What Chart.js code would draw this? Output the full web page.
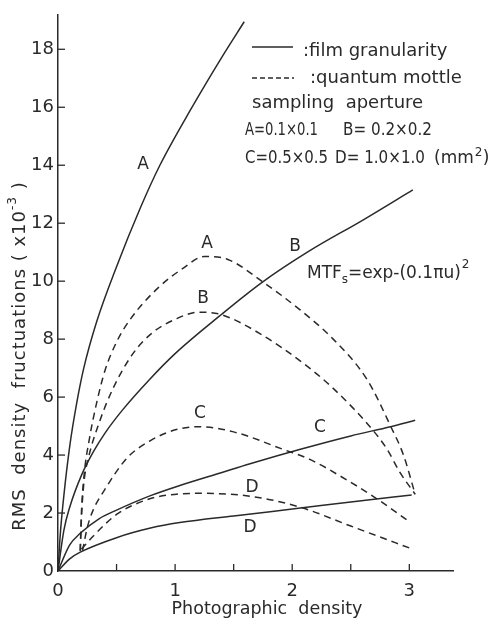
<!DOCTYPE html>
<html>
<head>
<meta charset="utf-8">
<script src="https://cdn.jsdelivr.net/npm/chart.js@4.4.0/dist/chart.umd.min.js"></script>
<style>
  body { margin: 0; background: #fff; }
  #wrap { width: 498px; height: 619px; position: relative; }
</style>
</head>
<body>
<div id="wrap"><canvas id="rmsChart"></canvas></div>
<script>
// film granularity (solid lines), photographic density -> RMS (x10^-3)
var filmAx = [0, 0.02, 0.05, 0.1, 0.16, 0.22, 0.33, 0.5, 0.7, 0.87, 1.13, 1.41, 1.59];
var filmAy = [0, 1.3, 2.6, 4.3, 5.8, 7.0, 8.6, 10.5, 12.5, 14.0, 15.9, 17.8, 18.95];
var filmBx = [0, 0.05, 0.1, 0.2, 0.3, 0.4, 0.55, 0.78, 1.0, 1.38, 1.74, 2.15, 2.6, 3.03];
var filmBy = [0, 1.4, 2.2, 3.3, 4.1, 4.75, 5.55, 6.6, 7.5, 8.8, 9.95, 11.05, 12.1, 13.15];
var filmCx = [0, 0.1, 0.19, 0.35, 0.5, 0.79, 1.04, 1.4, 1.64, 2.07, 2.5, 2.84, 3.05];
var filmCy = [0, 0.9, 1.3, 1.8, 2.1, 2.6, 2.95, 3.4, 3.7, 4.2, 4.66, 4.98, 5.2];
var filmDx = [0, 0.1, 0.19, 0.5, 0.79, 1.04, 1.5, 2.07, 2.5, 3.02];
var filmDy = [0, 0.42, 0.65, 1.15, 1.48, 1.67, 1.9, 2.17, 2.38, 2.62];

// quantum mottle (dashed lines)
var mottleAx = [0.19, 0.2, 0.22, 0.27, 0.33, 0.4, 0.5, 0.62, 0.85, 1.07, 1.25, 1.45, 1.74, 2.07, 2.35, 2.64, 2.84, 2.95, 3.05];
var mottleAy = [0.7, 2.0, 3.2, 4.6, 5.8, 6.9, 7.9, 8.7, 9.75, 10.45, 10.85, 10.75, 10.0, 9.0, 8.0, 6.6, 5.0, 4.0, 2.65];
var mottleBx = [0.19, 0.2, 0.22, 0.26, 0.35, 0.47, 0.64, 0.8, 1.01, 1.2, 1.39, 1.72, 2.1, 2.35, 2.68, 2.81, 2.92, 3.05];
var mottleBy = [0.7, 1.8, 3.0, 3.9, 5.1, 6.3, 7.5, 8.2, 8.7, 8.93, 8.85, 8.2, 7.15, 6.3, 4.9, 4.2, 3.4, 2.65];
var mottleCx = [0.21, 0.25, 0.3, 0.39, 0.59, 0.79, 1.01, 1.21, 1.5, 1.92, 2.15, 2.4, 2.72, 3.0];
var mottleCy = [0.7, 1.5, 2.1, 2.75, 3.9, 4.5, 4.88, 4.98, 4.8, 4.2, 3.85, 3.3, 2.5, 1.7];
var mottleDx = [0.2, 0.3, 0.5, 0.79, 1.01, 1.2, 1.64, 2.07, 2.5, 3.03];
var mottleDy = [0.75, 1.2, 1.95, 2.5, 2.65, 2.68, 2.58, 2.2, 1.55, 0.75];

// axis ticks
var xTickMarks = [0.5, 1, 1.5, 2, 2.5, 3];
var yTickMarks = [2, 4, 6, 8, 10, 12, 14, 16, 18];

// curve letters, placed in data units
var curveLabels = ['A', 'A', 'B', 'B', 'C', 'C', 'D', 'D'];
var curveLabelX = [0.726, 1.272, 1.238, 2.024, 1.213, 2.237, 1.657, 1.64];
var curveLabelY = [14.03, 11.28, 9.39, 11.21, 5.44, 4.95, 2.89, 1.51];

var ink = '#2a2a2a';
var fontFamily = "'DejaVu Sans', sans-serif";

function toPoints(xs, ys) {
    var pts = [];
    for (var i = 0; i < xs.length; i++) {
        pts.push({ x: xs[i], y: ys[i] });
    }
    return pts;
}

function curve(label, xs, ys, dashed) {
    return {
        label: label,
        data: toPoints(xs, ys),
        showLine: true,
        borderColor: ink,
        borderWidth: 1.5,
        borderDash: dashed ? [7, 5] : [],
        pointRadius: 0,
        fill: false,
        cubicInterpolationMode: 'monotone'
    };
}

// Draw inward tick marks, legend text and labels
var annotations = {
    id: 'annotations',
    beforeDraw: function (chart) {
        var ctx = chart.ctx;
        ctx.save();
        ctx.fillStyle = '#fff';
        ctx.fillRect(0, 0, chart.width, chart.height);
        ctx.restore();
    },
    afterDraw: function (chart) {
        var ctx = chart.ctx;
        var xs = chart.scales.x, ys = chart.scales.y;
        var area = chart.chartArea;
        ctx.save();
        ctx.strokeStyle = ink;
        ctx.fillStyle = ink;
        ctx.lineWidth = 1.3;

        // inward tick marks
        yTickMarks.forEach(function (v) {
            var py = ys.getPixelForValue(v);
            ctx.beginPath();
            ctx.moveTo(area.left, py);
            ctx.lineTo(area.left + 7, py);
            ctx.stroke();
        });
        xTickMarks.forEach(function (v) {
            var px = xs.getPixelForValue(v);
            ctx.beginPath();
            ctx.moveTo(px, area.bottom);
            ctx.lineTo(px, area.bottom - 7);
            ctx.stroke();
        });

        // curve letters
        ctx.font = '17px ' + fontFamily;
        ctx.textAlign = 'center';
        ctx.textBaseline = 'middle';
        for (var i = 0; i < curveLabels.length; i++) {
            ctx.fillText(curveLabels[i], xs.getPixelForValue(curveLabelX[i]), ys.getPixelForValue(curveLabelY[i]));
        }

        // legend
        ctx.textAlign = 'left';
        ctx.textBaseline = 'alphabetic';
        ctx.lineWidth = 1.5;
        ctx.beginPath();
        ctx.moveTo(252, 47);
        ctx.lineTo(293, 47);
        ctx.stroke();
        ctx.setLineDash([5, 3]);
        ctx.beginPath();
        ctx.moveTo(252, 78);
        ctx.lineTo(294, 78);
        ctx.stroke();
        ctx.setLineDash([]);

        ctx.font = '18px ' + fontFamily;
        ctx.fillText(':film granularity', 303, 56, 154);
        ctx.fillText(':quantum mottle', 310, 83, 155);
        ctx.fillText('sampling  aperture', 252, 108, 176);
        ctx.font = '17px ' + fontFamily;
        ctx.fillText('A=0.1\u00d70.1', 245, 135, 73);
        ctx.fillText('B= 0.2\u00d70.2', 343, 135, 89);
        ctx.fillText('C=0.5\u00d70.5', 245, 163, 83);
        ctx.fillText('D= 1.0\u00d71.0', 335, 163, 90);
        ctx.fillText('(mm', 434, 163);
        var w = ctx.measureText('(mm').width;
        ctx.font = '12px ' + fontFamily;
        ctx.fillText('2', 434 + w + 1, 156);
        ctx.font = '17px ' + fontFamily;
        ctx.fillText(')', 434 + w + 9, 163);

        // MTF formula
        ctx.font = '17px ' + fontFamily;
        ctx.fillText('MTF', 307, 278);
        var mx = 307 + ctx.measureText('MTF').width;
        ctx.font = '12px ' + fontFamily;
        ctx.fillText('s', mx, 283);
        mx += ctx.measureText('s').width;
        ctx.font = '17px ' + fontFamily;
        var rest = '=exp-(0.1\u03c0u)';
        var restW = Math.min(ctx.measureText(rest).width, 463 - mx);
        ctx.fillText(rest, mx, 278, 463 - mx);
        ctx.font = '12px ' + fontFamily;
        ctx.fillText('2', mx + restW + 1, 268);

        // x axis title
        ctx.font = '17.5px ' + fontFamily;
        ctx.textAlign = 'center';
        ctx.fillText('Photographic  density', 267, 614);

        // y axis title, rotated
        ctx.translate(20, 356);
        ctx.rotate(-Math.PI / 2);
        ctx.textAlign = 'left';
        ctx.textBaseline = 'middle';
        ctx.letterSpacing = '1px';
        ctx.font = '18px ' + fontFamily;
        var t1 = 'RMS  density  fructuations ( x10';
        var t2 = '-3';
        var t3 = ' )';
        var w1 = ctx.measureText(t1).width;
        var w3 = ctx.measureText(t3).width;
        ctx.font = '12px ' + fontFamily;
        var w2 = ctx.measureText(t2).width;
        var start = -(w1 + w2 + w3) / 2;
        ctx.font = '18px ' + fontFamily;
        ctx.fillText(t1, start, 0);
        ctx.font = '12px ' + fontFamily;
        ctx.fillText(t2, start + w1, -7);
        ctx.font = '18px ' + fontFamily;
        ctx.fillText(t3, start + w1 + w2, 0);
        ctx.restore();
    }
};

var ctx = document.getElementById('rmsChart').getContext('2d');
var rmsChart = new Chart(ctx, {
    type: 'scatter',
    data: {
        datasets: [
            curve('film A', filmAx, filmAy, false),
            curve('film B', filmBx, filmBy, false),
            curve('film C', filmCx, filmCy, false),
            curve('film D', filmDx, filmDy, false),
            curve('mottle A', mottleAx, mottleAy, true),
            curve('mottle B', mottleBx, mottleBy, true),
            curve('mottle C', mottleCx, mottleCy, true),
            curve('mottle D', mottleDx, mottleDy, true)
        ]
    },
    options: {
        responsive: true,
        maintainAspectRatio: false,
        animation: false,
        layout: { padding: { top: 13, right: 45, left: 0, bottom: 0 } },
        plugins: {
            legend: { display: false },
            tooltip: { enabled: false }
        },
        scales: {
            x: {
                type: 'linear',
                min: 0,
                max: 3.373,
                grid: { display: false, drawTicks: false },
                border: { display: true, color: ink, width: 1.5 },
                ticks: {
                    stepSize: 0.5,
                    includeBounds: false,
                    autoSkip: false,
                    maxRotation: 0,
                    padding: 10,
                    color: ink,
                    font: { family: 'DejaVu Sans', size: 18 },
                    callback: function (v) {
                        return Number.isInteger(v) ? v : '';
                    }
                },
                afterFit: function (scale) { scale.height = 48; }
            },
            y: {
                type: 'linear',
                min: 0,
                max: 19.19,
                grid: { display: false, drawTicks: false },
                border: { display: true, color: ink, width: 1.5 },
                ticks: {
                    stepSize: 2,
                    includeBounds: false,
                    autoSkip: false,
                    padding: 4,
                    color: ink,
                    font: { family: 'DejaVu Sans', size: 18 },
                    callback: function (v) {
                        return v;
                    }
                },
                afterFit: function (scale) { scale.width = 58; }
            }
        }
    },
    plugins: [annotations]
});
</script>
</body>
</html>
